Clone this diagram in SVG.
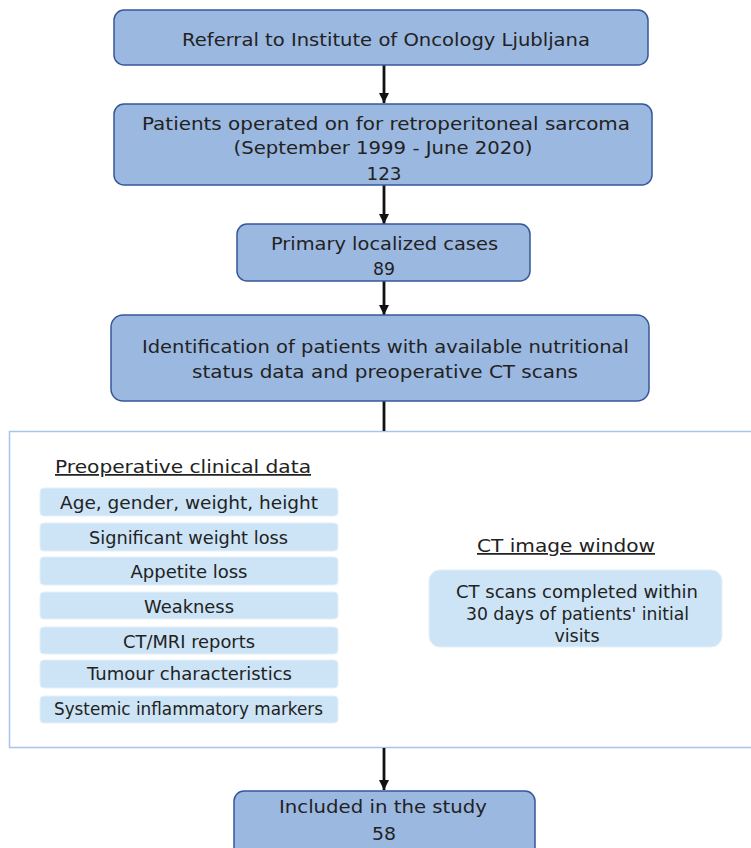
<svg xmlns="http://www.w3.org/2000/svg" width="751" height="848" viewBox="0 0 751 848">
<style>
.main{fill:#9bb8e1;stroke:#36579a;stroke-width:1.5}
.item{fill:#cce4f6;stroke:#e3f0fa;stroke-width:1}
.frame{fill:#ffffff;stroke:#a9c4ea;stroke-width:1.5}
text{font-family:"DejaVu Sans","Liberation Sans",sans-serif;font-size:17.5px;fill:#222222;text-anchor:middle}
.hd{text-decoration:underline}
.conn{stroke:#111111;stroke-width:2.8;fill:none}
</style>
<defs>
<marker id="ah" markerWidth="11" markerHeight="11" refX="10" refY="5" orient="auto" markerUnits="userSpaceOnUse">
<path d="M0,0 L10,5 L0,10 Z" fill="#111111"/>
</marker>
</defs>
<rect width="751" height="848" fill="#ffffff"/>
<g id="frame">
<rect class="frame" x="9.5" y="431.5" width="760" height="316"/>
</g>
<g id="connectors">
<line class="conn" x1="384" y1="65" x2="384" y2="103" marker-end="url(#ah)"/>
<line class="conn" x1="384" y1="185" x2="384" y2="224" marker-end="url(#ah)"/>
<line class="conn" x1="384" y1="281" x2="384" y2="315" marker-end="url(#ah)"/>
<line class="conn" x1="384" y1="401" x2="384" y2="431"/>
<line class="conn" x1="384" y1="748" x2="384" y2="790" marker-end="url(#ah)"/>
</g>
<g id="n1">
<rect class="main" x="114" y="10" width="534" height="55" rx="10"/>
<text x="386" y="46" textLength="408" lengthAdjust="spacingAndGlyphs">Referral to Institute of Oncology Ljubljana</text>
</g>
<g id="n2">
<rect class="main" x="114" y="104" width="538" height="81" rx="10"/>
<text x="386" y="130" textLength="488" lengthAdjust="spacingAndGlyphs">Patients operated on for retroperitoneal sarcoma</text>
<text x="383" y="154" textLength="299" lengthAdjust="spacingAndGlyphs">(September 1999 - June 2020)</text>
<text x="384" y="180" textLength="35" lengthAdjust="spacingAndGlyphs">123</text>
</g>
<g id="n3">
<rect class="main" x="237" y="224" width="293" height="57" rx="10"/>
<text x="384.5" y="250" textLength="227" lengthAdjust="spacingAndGlyphs">Primary localized cases</text>
<text x="384" y="275" textLength="22" lengthAdjust="spacingAndGlyphs">89</text>
</g>
<g id="n4">
<rect class="main" x="111" y="315" width="538" height="86" rx="12"/>
<text x="385.5" y="353" textLength="487" lengthAdjust="spacingAndGlyphs">Identification of patients with available nutritional</text>
<text x="385" y="378" textLength="386" lengthAdjust="spacingAndGlyphs">status data and preoperative CT scans</text>
</g>
<g id="clinical">
<text class="hd" x="183" y="473" textLength="256" lengthAdjust="spacingAndGlyphs">Preoperative clinical data</text>
<rect class="item" x="40" y="488" width="298" height="28" rx="4"/>
<text x="189" y="509" textLength="258" lengthAdjust="spacingAndGlyphs">Age, gender, weight, height</text>
<rect class="item" x="40" y="523" width="298" height="28" rx="4"/>
<text x="188.5" y="544" textLength="199" lengthAdjust="spacingAndGlyphs">Significant weight loss</text>
<rect class="item" x="40" y="557" width="298" height="28" rx="4"/>
<text x="189" y="578" textLength="117" lengthAdjust="spacingAndGlyphs">Appetite loss</text>
<rect class="item" x="40" y="592" width="298" height="27" rx="4"/>
<text x="189" y="613" textLength="90" lengthAdjust="spacingAndGlyphs">Weakness</text>
<rect class="item" x="40" y="627" width="298" height="27" rx="4"/>
<text x="189" y="648" textLength="132" lengthAdjust="spacingAndGlyphs">CT/MRI reports</text>
<rect class="item" x="40" y="660" width="298" height="28" rx="4"/>
<text x="189.5" y="680" textLength="205" lengthAdjust="spacingAndGlyphs">Tumour characteristics</text>
<rect class="item" x="40" y="696" width="298" height="27" rx="4"/>
<text x="188.5" y="715" textLength="269" lengthAdjust="spacingAndGlyphs">Systemic inflammatory markers</text>
</g>
<g id="ctwindow">
<text class="hd" x="566" y="552" textLength="178" lengthAdjust="spacingAndGlyphs">CT image window</text>
<rect class="item" x="429" y="570" width="293" height="77" rx="11"/>
<text x="577" y="598" textLength="242" lengthAdjust="spacingAndGlyphs">CT scans completed within</text>
<text x="577.5" y="620" textLength="223" lengthAdjust="spacingAndGlyphs">30 days of patients' initial</text>
<text x="577" y="642">visits</text>
</g>
<g id="n5">
<rect class="main" x="234" y="791" width="301" height="70" rx="10"/>
<text x="383" y="813" textLength="208" lengthAdjust="spacingAndGlyphs">Included in the study</text>
<text x="384" y="840" textLength="24" lengthAdjust="spacingAndGlyphs">58</text>
</g>
</svg>
